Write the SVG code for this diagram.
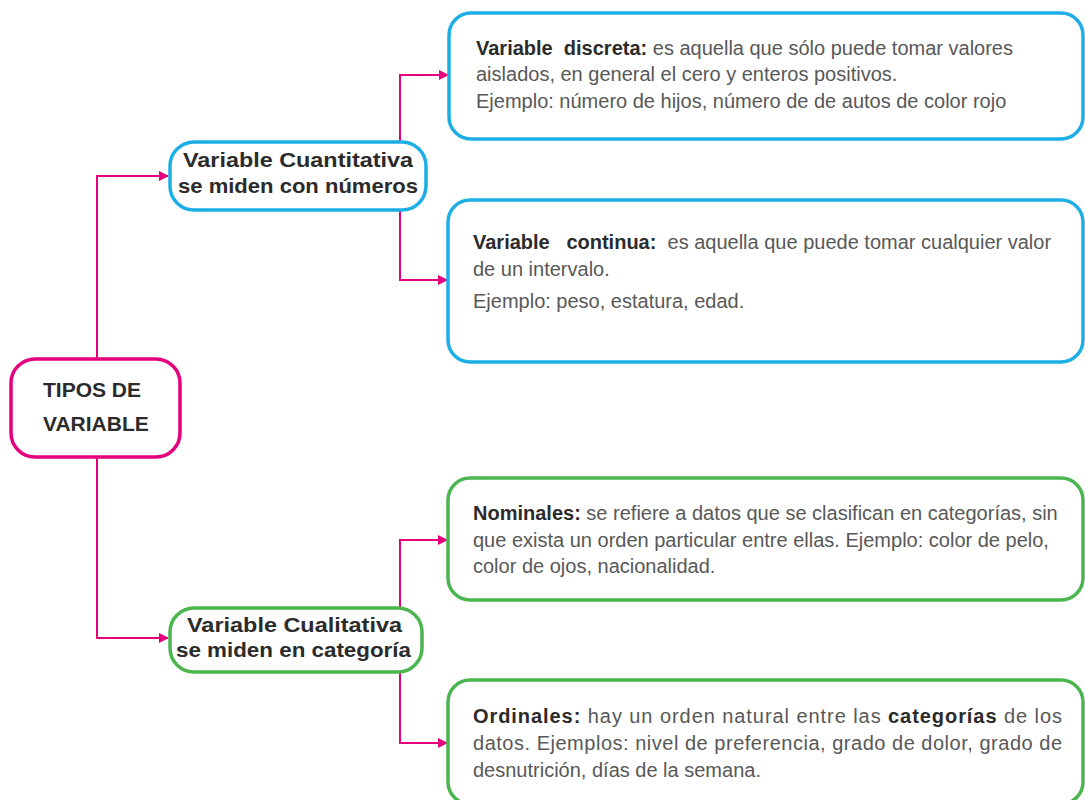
<svg xmlns="http://www.w3.org/2000/svg" width="1085" height="800" viewBox="0 0 1085 800">
<defs>
<style>
.pk{stroke:#e6007e;stroke-width:2;fill:none}
.root{fill:#fff;stroke:#e6007e;stroke-width:3.5}
.blue{fill:#fff;stroke:#1eaee6;stroke-width:3.5}
.green{fill:#fff;stroke:#4bb54f;stroke-width:3.5}
.t{font-family:"Liberation Sans",Arial,sans-serif;font-size:20px;fill:#585858;white-space:pre}
.b{font-weight:bold;fill:#2b2b2b}
.h{font-family:"Liberation Sans",Arial,sans-serif;font-weight:bold;font-size:21px;fill:#2b2b2b}
.r{font-family:"Liberation Sans",Arial,sans-serif;font-weight:bold;font-size:21px;fill:#2b2b2b}
</style>
<marker id="ah" markerUnits="userSpaceOnUse" markerWidth="10" markerHeight="10" refX="9" refY="5" orient="auto">
<path d="M0,0 L10,5 L0,10 z" fill="#e6007e"/>
</marker>
</defs>
<rect width="1085" height="800" fill="#fff"/>
<g id="connectors">
<path class="pk" d="M97,358 V176 H168" marker-end="url(#ah)"/>
<path class="pk" d="M97,458 V638 H168" marker-end="url(#ah)"/>
<path class="pk" d="M400,142 V75 H448" marker-end="url(#ah)"/>
<path class="pk" d="M400,210 V280 H447" marker-end="url(#ah)"/>
<path class="pk" d="M400,608 V540 H447" marker-end="url(#ah)"/>
<path class="pk" d="M400,672 V743 H447" marker-end="url(#ah)"/>
</g>
<g id="root">
<rect class="root" x="11" y="359" width="169" height="98" rx="24"/>
<text class="r" x="43" y="397">TIPOS DE</text>
<text class="r" x="43" y="431">VARIABLE</text>
</g>
<g id="cuantitativa">
<rect class="blue" x="170" y="142" width="256" height="68" rx="24"/>
<text class="h" x="183" y="167" textLength="230" lengthAdjust="spacingAndGlyphs">Variable Cuantitativa</text>
<text class="h" x="178" y="193" textLength="240" lengthAdjust="spacingAndGlyphs">se miden con números</text>
</g>
<g id="cualitativa">
<rect class="green" x="170" y="608" width="252" height="64" rx="24"/>
<text class="h" x="187" y="632" textLength="215" lengthAdjust="spacingAndGlyphs">Variable Cualitativa</text>
<text class="h" x="176" y="657" textLength="235" lengthAdjust="spacingAndGlyphs">se miden en categoría</text>
</g>
<g id="discreta">
<rect class="blue" x="449" y="13" width="634" height="126" rx="22"/>
<text class="t" x="476" y="55"><tspan class="b">Variable  discreta:</tspan> es aquella que sólo puede tomar valores</text>
<text class="t" x="476" y="81">aislados, en general el cero y enteros positivos.</text>
<text class="t" x="476" y="108">Ejemplo: número de hijos, número de de autos de color rojo</text>
</g>
<g id="continua">
<rect class="blue" x="448" y="200" width="635" height="162" rx="22"/>
<text class="t" x="473" y="249"><tspan class="b">Variable   continua:</tspan>  es aquella que puede tomar cualquier valor</text>
<text class="t" x="473" y="276">de un intervalo.</text>
<text class="t" x="473" y="308">Ejemplo: peso, estatura, edad.</text>
</g>
<g id="nominales">
<rect class="green" x="448" y="478" width="635" height="122" rx="22"/>
<text class="t" x="473" y="520"><tspan class="b">Nominales:</tspan> se refiere a datos que se clasifican en categorías, sin</text>
<text class="t" x="473" y="547">que exista un orden particular entre ellas. Ejemplo: color de pelo,</text>
<text class="t" x="473" y="573">color de ojos, nacionalidad.</text>
</g>
<g id="ordinales">
<rect class="green" x="448" y="680" width="635" height="124" rx="22"/>
<text class="t" x="473" y="723" textLength="589" lengthAdjust="spacing"><tspan class="b">Ordinales:</tspan> hay un orden natural entre las <tspan class="b">categorías</tspan> de los</text>
<text class="t" x="473" y="750" textLength="589" lengthAdjust="spacing">datos. Ejemplos: nivel de preferencia, grado de dolor, grado de</text>
<text class="t" x="473" y="777">desnutrición, días de la semana.</text>
</g>
</svg>
